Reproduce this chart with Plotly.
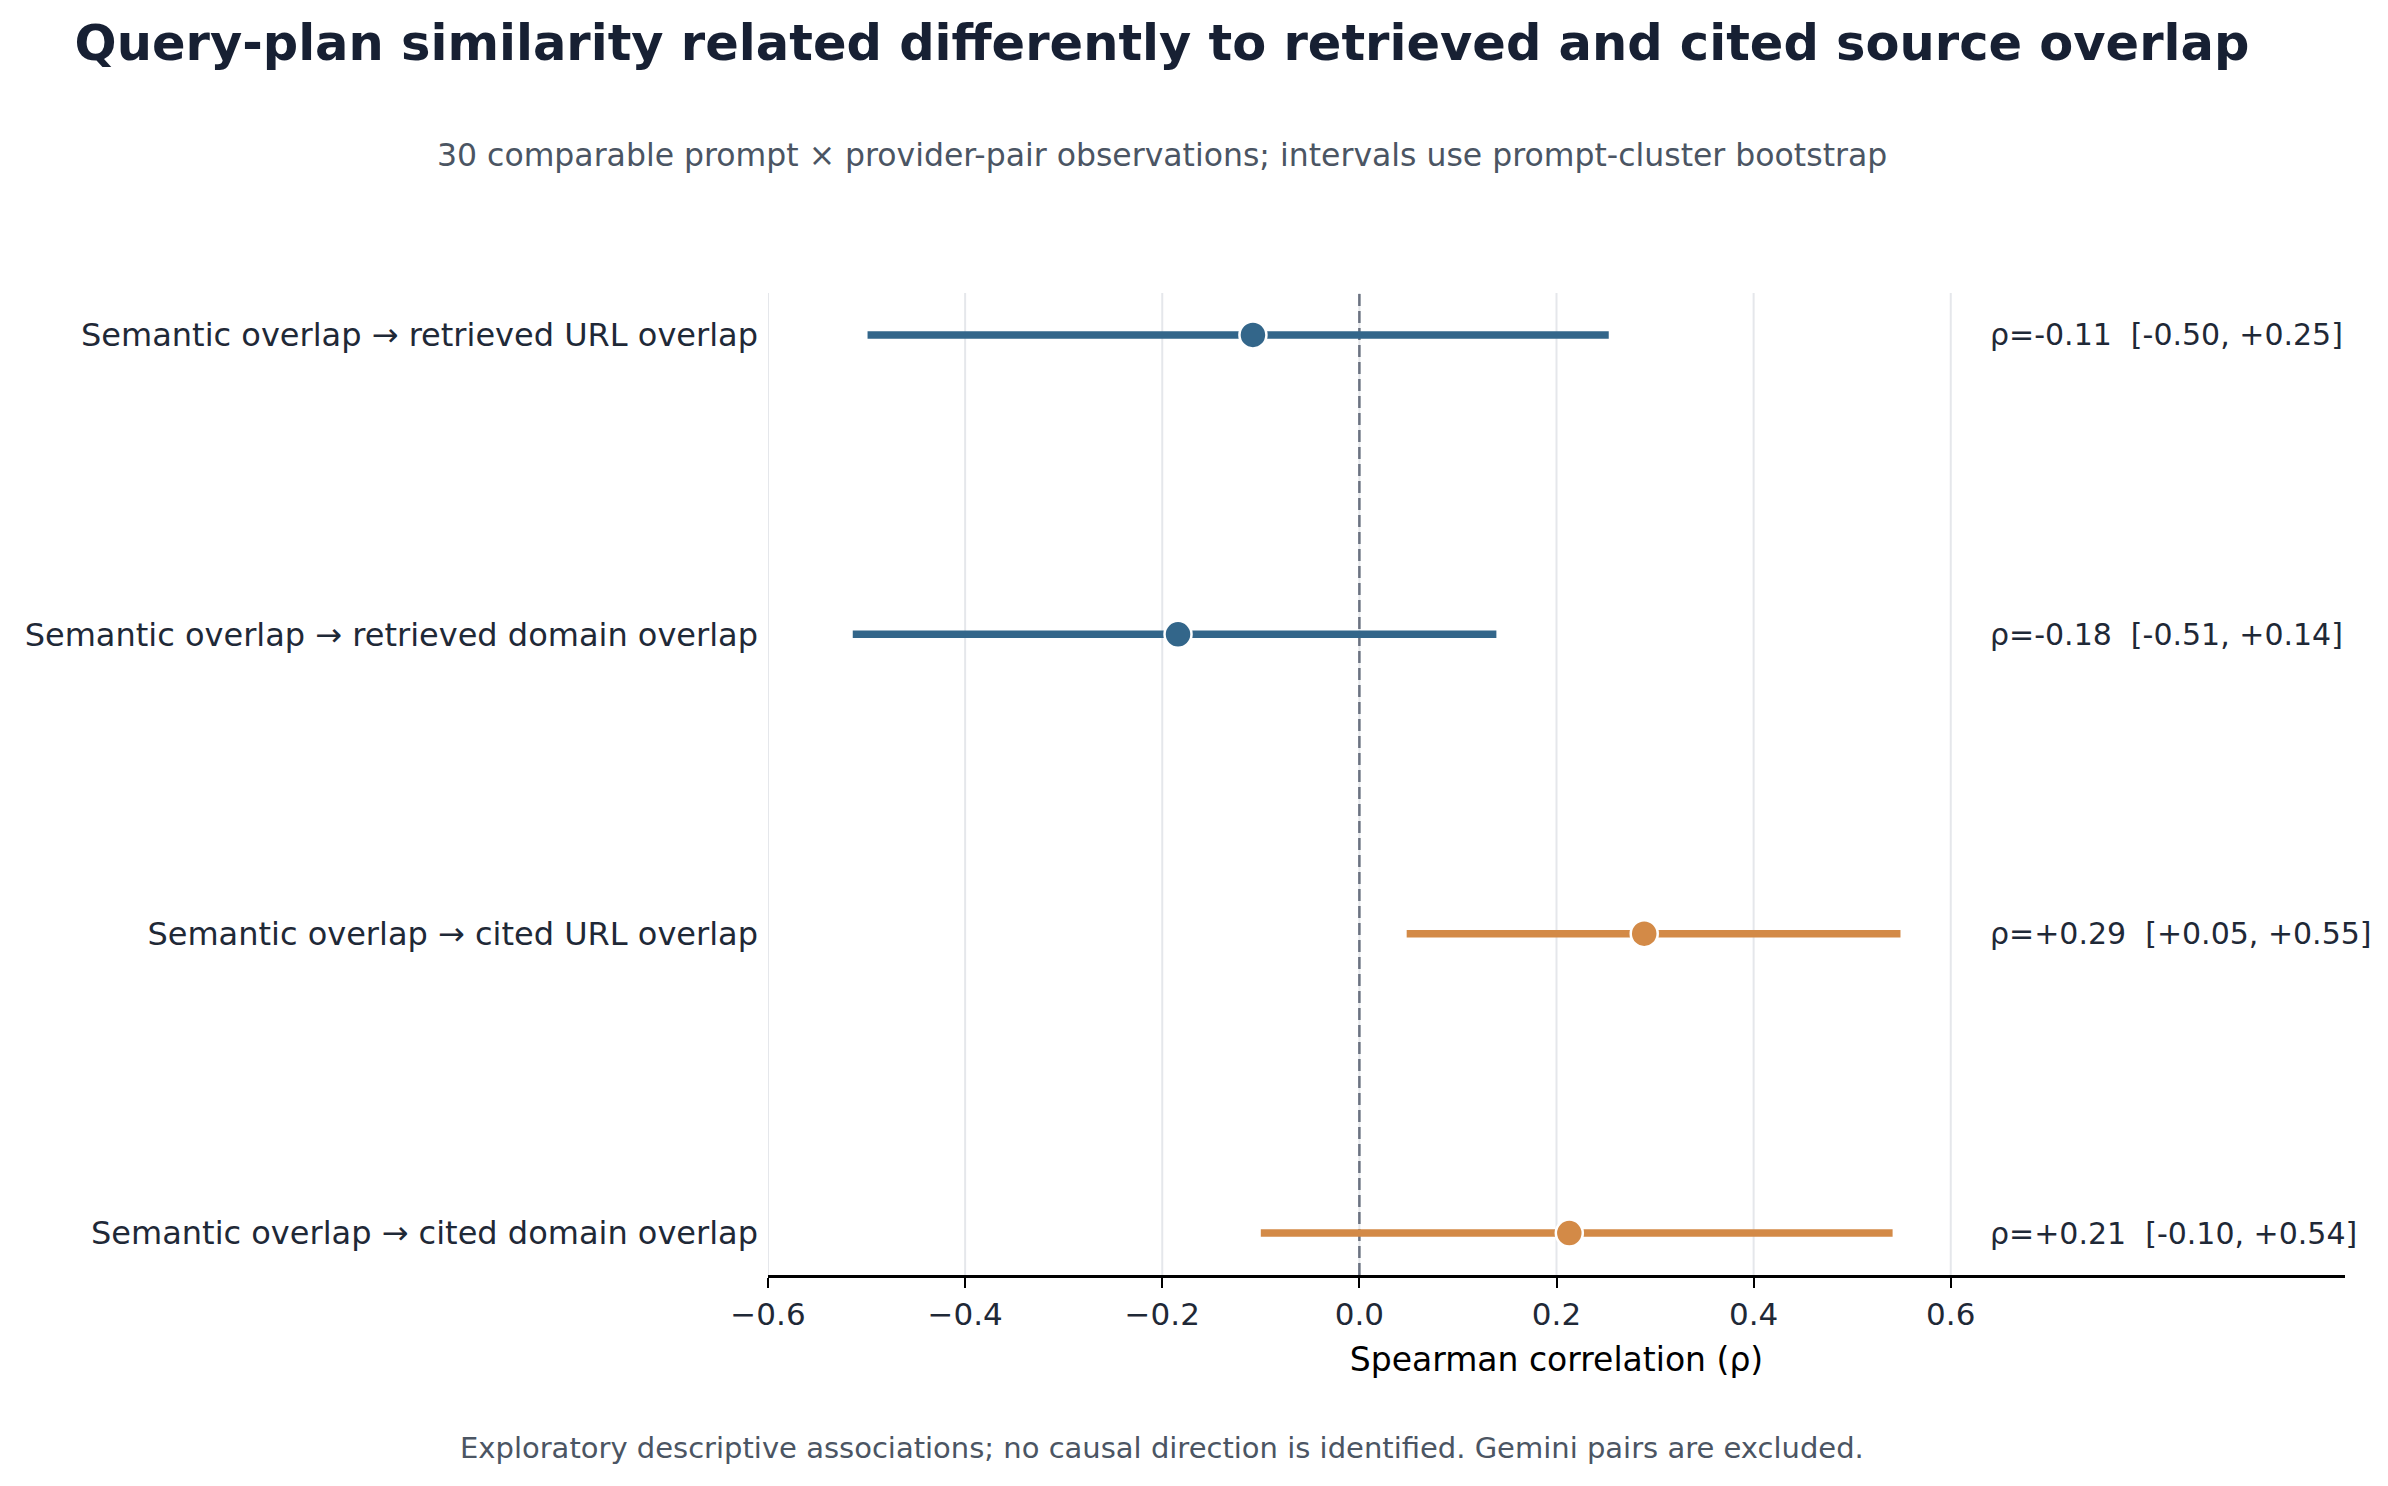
import plotly.graph_objects as go

# ---- data ----
labels = [
    "Semantic overlap → retrieved URL overlap",
    "Semantic overlap → retrieved domain overlap",
    "Semantic overlap → cited URL overlap",
    "Semantic overlap → cited domain overlap",
]
rho = [-0.108, -0.184, 0.289, 0.213]
ci_low = [-0.499, -0.514, 0.048, -0.100]
ci_high = [0.253, 0.139, 0.549, 0.541]
groups = ["retrieved", "retrieved", "cited", "cited"]
x_ticks = [-0.6, -0.4, -0.2, 0.0, 0.2, 0.4, 0.6]
x_tick_text = ["−0.6", "−0.4", "−0.2", "0.0", "0.2", "0.4", "0.6"]

colors = {"retrieved": "#33668A", "cited": "#D38A47"}
FONT = "DejaVu Sans"
TEXT = "#1f2937"

W, H = 2388, 1486
L, R, T, B = 760, 51, 285, 219
plot_w = W - L - R
plot_h = H - T - B

fig = go.Figure()

# vertical grid lines (below everything), then dashed zero line
for tv in x_ticks:
    fig.add_shape(type="line", x0=tv, x1=tv, y0=0, y1=1, xref="x", yref="paper",
                  line=dict(color="#e5e7eb", width=2), layer="below")
fig.add_shape(type="line", x0=0, x1=0, y0=0, y1=1, xref="x", yref="paper",
              line=dict(color="#6b7280", width=2.5, dash="12px,5px"), layer="below")

for lab, r, lo, hi, g in zip(labels, rho, ci_low, ci_high, groups):
    c = colors[g]
    fig.add_trace(go.Scatter(
        x=[lo, hi], y=[lab, lab], mode="lines",
        line=dict(color=c, width=7.5), hoverinfo="skip", showlegend=False))
for lab, r, lo, hi, g in zip(labels, rho, ci_low, ci_high, groups):
    c = colors[g]
    fig.add_trace(go.Scatter(
        x=[r], y=[lab], mode="markers",
        marker=dict(color=c, size=27, line=dict(color="white", width=2.5)),
        showlegend=False))
    fig.add_annotation(
        x=0.638, y=lab, xref="x", yref="y", xanchor="left", yanchor="middle",
        text=f"ρ={r:+.2f}  [{lo:+.2f}, {hi:+.2f}]", showarrow=False,
        font=dict(family=FONT, size=30, color=TEXT))

cx = (1154 - L) / plot_w  # centre of headings in paper units

fig.add_annotation(
    x=cx, y=1 + (T - 147) / plot_h, xref="paper", yref="paper",
    xanchor="center", yanchor="middle", showarrow=False,
    text="30 comparable prompt × provider-pair observations; intervals use prompt-cluster bootstrap",
    font=dict(family=FONT, size=31.5, color="#4b5563"))
fig.add_annotation(
    x=cx, y=-(1440 - (H - B)) / plot_h, xref="paper", yref="paper",
    xanchor="center", yanchor="middle", showarrow=False,
    text="Exploratory descriptive associations; no causal direction is identified. Gemini pairs are excluded.",
    font=dict(family=FONT, size=29, color="#4b5563"))

fig.update_layout(
    width=W, height=H, autosize=False,
    margin=dict(l=L, r=R, t=T, b=B),
    paper_bgcolor="white", plot_bgcolor="white",
    font=dict(family=FONT, color=TEXT),
    title=dict(
        text="<b>Query-plan similarity related differently to retrieved and cited source overlap</b>",
        x=1154 / W, xanchor="center", xref="container",
        y=1 - 35 / H, yanchor="middle", yref="container",
        font=dict(family=FONT, size=49.5, color="#172033")),
    xaxis=dict(
        range=[-0.6, 1.0], tickvals=x_ticks, ticktext=x_tick_text,
        showgrid=False, zeroline=False, showline=True, linecolor="black", linewidth=2.5,
        ticks="outside", ticklen=10, tickwidth=2, tickcolor="black",
        tickfont=dict(family=FONT, size=31, color=TEXT),
        title=dict(text="Spearman correlation (ρ)", standoff=17,
                   font=dict(family=FONT, size=33, color="black")),
    ),
    yaxis=dict(
        type="category", categoryorder="array", categoryarray=labels,
        range=[3.14, -0.14], showgrid=False, zeroline=False, showline=False,
        ticks="", ticklabelstandoff=9,
        tickfont=dict(family=FONT, size=32, color=TEXT),
    ),
)

fig.write_html("out.html")
